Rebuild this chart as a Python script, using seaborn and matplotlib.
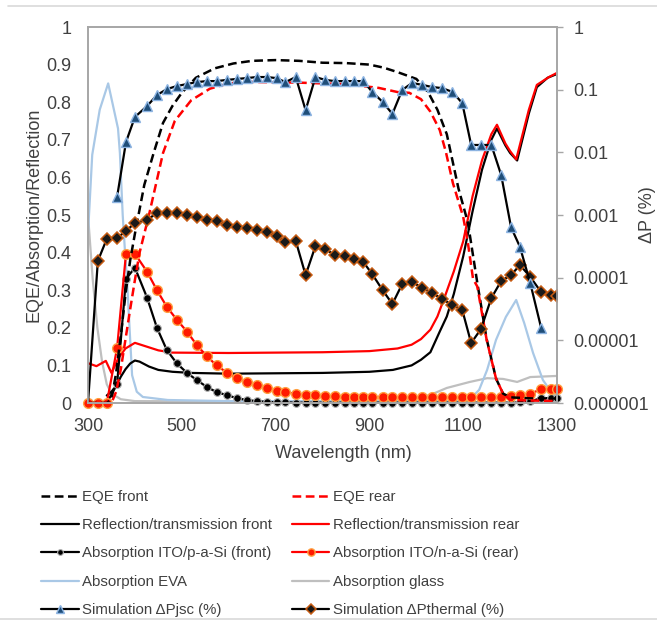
import math
import matplotlib
matplotlib.use("Agg")
import matplotlib.pyplot as plt
from matplotlib.lines import Line2D
from matplotlib.ticker import FixedLocator, FuncFormatter, NullLocator
import seaborn as sns

# ---------------- spectra, left axis (fraction) ----------------
eqe_front_wl = [300, 340, 350, 360, 370, 380, 390, 400, 420, 440, 460, 480, 500, 530, 570, 610,
                650, 700, 750, 800, 850, 900, 930, 960, 1000, 1025, 1045, 1065, 1090, 1110, 1130,
                1150, 1170, 1185, 1200, 1250, 1300]
eqe_front = [0.0, 0.0, 0.01, 0.08, 0.18, 0.29, 0.38, 0.45, 0.58, 0.665, 0.745, 0.79, 0.825, 0.865,
             0.89, 0.903, 0.91, 0.912, 0.91, 0.905, 0.904, 0.9, 0.892, 0.88, 0.862, 0.827, 0.78,
             0.715, 0.57, 0.48, 0.32, 0.17, 0.065, 0.025, 0.015, 0.012, 0.012]

eqe_rear_wl = [300, 350, 360, 370, 380, 390, 400, 410, 430, 460, 485, 520, 560, 600, 640, 750, 850,
               920, 960, 985, 1010, 1030, 1050, 1063, 1078, 1100, 1110, 1121, 1130, 1150, 1170,
               1185, 1200, 1300]
eqe_rear = [0.0, 0.0, 0.03, 0.09, 0.17, 0.25, 0.327, 0.40, 0.50, 0.665, 0.75, 0.805, 0.836, 0.85,
            0.854, 0.852, 0.848, 0.838, 0.827, 0.825, 0.808, 0.775, 0.726, 0.668, 0.585, 0.495,
            0.426, 0.33, 0.31, 0.168, 0.065, 0.025, 0.008, 0.005]

refl_front_wl = [340, 350, 360, 370, 380, 390, 400, 410, 430, 450, 480, 520, 600, 700, 800, 900,
                 950, 990, 1010, 1030, 1050, 1065, 1080, 1100, 1120, 1140, 1160, 1172, 1190, 1200,
                 1215, 1240, 1257, 1280, 1300]
refl_front = [0.02, 0.03, 0.045, 0.07, 0.09, 0.105, 0.113, 0.11, 0.097, 0.088, 0.083, 0.08, 0.078,
              0.079, 0.08, 0.083, 0.088, 0.1, 0.115, 0.135, 0.19, 0.23, 0.29, 0.39, 0.51, 0.62,
              0.70, 0.73, 0.685, 0.665, 0.645, 0.77, 0.84, 0.865, 0.875]

refl_rear_wl = [300, 318, 338, 350, 365, 380, 400, 420, 450, 480, 600, 800, 900, 960, 990, 1010,
                1030, 1045, 1060, 1080, 1100, 1120, 1140, 1160, 1172, 1190, 1200, 1213, 1240, 1257,
                1283, 1300]
refl_rear = [0.106, 0.098, 0.112, 0.08, 0.12, 0.145, 0.16, 0.152, 0.14, 0.134, 0.133, 0.135,
             0.138, 0.145, 0.155, 0.17, 0.195, 0.23, 0.28, 0.35, 0.43, 0.55, 0.645, 0.715, 0.74,
             0.69, 0.67, 0.648, 0.78, 0.846, 0.867, 0.878]

eva_wl = [300, 309, 325, 343, 364, 368, 374, 379, 383, 394, 404, 417, 470, 600, 900, 1080, 1113,
          1134, 1151, 1170, 1191, 1213, 1230, 1249, 1270, 1289, 1300]
eva = [0.45, 0.66, 0.78, 0.85, 0.73, 0.665, 0.5, 0.4, 0.33, 0.074, 0.03, 0.016, 0.008, 0.005,
       0.005, 0.005, 0.008, 0.035, 0.088, 0.168, 0.229, 0.274, 0.213, 0.133, 0.061, 0.027, 0.021]

glass_wl = [300, 310, 320, 330, 340, 350, 370, 400, 600, 900, 980, 1029, 1065, 1114, 1151, 1185,
            1215, 1243, 1300]
glass = [0.5, 0.33, 0.2, 0.11, 0.05, 0.025, 0.01, 0.005, 0.004, 0.005, 0.01, 0.021, 0.04, 0.056,
         0.066, 0.064, 0.056, 0.069, 0.072]

# ---------------- sampled series (shared wavelength grid) ----------------
grid_wl = [300, 321, 340, 362, 381, 400, 426, 447, 468, 489, 511, 532, 553, 574, 596, 617, 638,
           660, 681, 702, 721, 743, 764, 785, 806, 826, 847, 868, 887, 906, 928, 949, 970, 991,
           1013, 1034, 1055, 1077, 1098, 1117, 1138, 1160, 1181, 1202, 1221, 1243, 1266, 1287, 1300]

ito_front = [0.0, 0.0, 0.0, 0.05, 0.33, 0.36, 0.28, 0.2, 0.141, 0.106, 0.08, 0.061, 0.043, 0.029,
             0.021, 0.013, 0.008, 0.005, 0.003, 0.002, 0.002, 0.001, 0.001, 0.001, 0.001, 0.001,
             0.001, 0.001, 0.001, 0.001, 0.001, 0.001, 0.001, 0.001, 0.001, 0.001, 0.001, 0.001,
             0.001, 0.001, 0.001, 0.001, 0.001, 0.001, 0.002, 0.004, 0.013, 0.013, 0.013]

ito_rear = [0.0, 0.0, 0.0, 0.146, 0.397, 0.397, 0.349, 0.30, 0.256, 0.222, 0.19, 0.154, 0.125,
            0.1, 0.081, 0.067, 0.057, 0.047, 0.039, 0.032, 0.028, 0.025, 0.022, 0.02, 0.019, 0.018,
            0.017, 0.017, 0.016, 0.016, 0.016, 0.015, 0.015, 0.015, 0.015, 0.015, 0.015, 0.015,
            0.016, 0.016, 0.016, 0.017, 0.017, 0.018, 0.02, 0.024, 0.037, 0.037, 0.037]

# ---------------- simulations, right axis (%) ----------------
pjsc_wl = grid_wl[3:47]
pjsc = [0.00194, 0.0146, 0.0366, 0.0548, 0.082, 0.102, 0.114, 0.123, 0.132, 0.137, 0.137, 0.143,
        0.148, 0.153, 0.159, 0.159, 0.153, 0.132, 0.159, 0.047, 0.159, 0.143, 0.137, 0.137, 0.137,
        0.137, 0.092, 0.064, 0.041, 0.099, 0.128, 0.119, 0.110, 0.106, 0.092, 0.061, 0.0131,
        0.0131, 0.0131, 0.00434, 0.00064, 0.00031, 0.000082, 0.000016]

pthermal_wl = grid_wl
pthermal = [1.0e-6, 1.85e-4, 4.14e-4, 4.30e-4, 5.56e-4, 7.45e-4, 8.32e-4, 1.08e-3, 1.08e-3,
            1.08e-3, 1.0e-3, 9.29e-4, 8.32e-4, 8.0e-4, 6.92e-4, 6.42e-4, 6.19e-4, 5.75e-4,
            5.35e-4, 4.62e-4, 3.71e-4, 3.85e-4, 1.10e-4, 3.20e-4, 2.86e-4, 2.30e-4, 2.22e-4,
            1.99e-4, 1.78e-4, 1.14e-4, 6.35e-5, 3.80e-5, 7.93e-5, 8.53e-5, 6.84e-5, 5.69e-5,
            4.56e-5, 3.66e-5, 3.05e-5, 9.06e-6, 1.52e-5, 4.73e-5, 8.85e-5, 1.10e-4, 1.59e-4,
            1.03e-4, 5.90e-5, 5.28e-5, 5.09e-5]

x_ticks = [300, 500, 700, 900, 1100, 1300]
left_ticks = [0, 0.1, 0.2, 0.3, 0.4, 0.5, 0.6, 0.7, 0.8, 0.9, 1]
right_ticks = [1e-6, 1e-5, 1e-4, 1e-3, 1e-2, 1e-1, 1]

# ---------------- figure ----------------
sns.set_theme(style="white")
plt.rcParams["font.family"] = ["Liberation Sans", "DejaVu Sans"]

TXT = "#404040"
FRAME = "#A6A6A6"
W, H = 657, 621

fig = plt.figure(figsize=(W / 100, H / 100), dpi=100)
ax = fig.add_axes([88 / W, 1 - 403 / H, 469 / W, 376 / H])
ax2 = ax.twinx()

dash = (0, (3.5, 1.8))
lw = 1.6

sns.lineplot(x=glass_wl, y=glass, ax=ax, color="#BFBFBF", lw=lw, legend=False,
             label="Absorption glass")
sns.lineplot(x=eva_wl, y=eva, ax=ax, color="#A9C8E6", lw=lw, legend=False,
             label="Absorption EVA")
sns.lineplot(x=refl_front_wl, y=refl_front, ax=ax, color="black", lw=lw, legend=False,
             label="Reflection/transmission front")
sns.lineplot(x=refl_rear_wl, y=refl_rear, ax=ax, color="#FF0000", lw=lw, legend=False,
             label="Reflection/transmission rear")
sns.lineplot(x=grid_wl, y=ito_front, ax=ax, color="black", lw=lw, marker="o", markersize=5.5,
             markerfacecolor="black", markeredgecolor="#B0B0B0", markeredgewidth=0.8,
             clip_on=False, legend=False, label="Absorption ITO/p-a-Si (front)")
sns.lineplot(x=grid_wl, y=ito_rear, ax=ax, color="#FF0000", lw=lw, marker="o", markersize=7,
             markerfacecolor="#FF1A00", markeredgecolor="#FFA040", markeredgewidth=1.0,
             clip_on=False, legend=False, label="Absorption ITO/n-a-Si (rear)")
sns.lineplot(x=eqe_front_wl, y=eqe_front, ax=ax, color="black", lw=1.8, linestyle=dash,
             legend=False, label="EQE front")
sns.lineplot(x=eqe_rear_wl, y=eqe_rear, ax=ax, color="#FF0000", lw=1.8, linestyle=dash,
             legend=False, label="EQE rear")

sns.lineplot(x=pthermal_wl, y=pthermal, ax=ax2, color="black", lw=lw, marker="D",
             markersize=6.2, markerfacecolor="#1A1A1A", markeredgecolor="#C55A11",
             markeredgewidth=1.1, markevery=list(range(1, len(pthermal_wl))), legend=False,
             label="Simulation \u0394Pthermal (%)")
sns.lineplot(x=pjsc_wl, y=pjsc, ax=ax2, color="black", lw=lw, marker="^", markersize=7.5,
             markerfacecolor="#1F4E79", markeredgecolor="#8DB4E2", markeredgewidth=1.0,
             legend=False, label="Simulation \u0394Pjsc (%)")

# axes ranges and ticks
ax.set_xlim(300, 1300)
ax.set_ylim(0, 1)
ax.set_xticks(x_ticks)
ax.set_yticks(left_ticks)
ax.yaxis.set_major_formatter(FuncFormatter(lambda v, p: f"{v:g}"))
ax.tick_params(axis="both", length=0, labelsize=13, colors=TXT)
ax.tick_params(axis="x", pad=11)
ax.tick_params(axis="y", pad=12)


def pct_label(v, pos):
    if v >= 1:
        return "1"
    return f"{v:.{int(round(-math.log10(v)))}f}"


ax2.set_yscale("log")
ax2.set_ylim(1e-6, 1)
ax2.yaxis.set_major_locator(FixedLocator(right_ticks))
ax2.yaxis.set_minor_locator(NullLocator())
ax2.yaxis.set_major_formatter(FuncFormatter(pct_label))
ax2.tick_params(axis="y", length=4, width=1, color=FRAME, labelsize=13, labelcolor=TXT, pad=8)

for a in (ax, ax2):
    for s in a.spines.values():
        s.set_color(FRAME)
        s.set_linewidth(1.2)
    a.grid(False)

ax.set_xlabel("Wavelength (nm)", fontsize=13, color=TXT)
ax.xaxis.set_label_coords((343 - 88) / 469, (403 - 445) / 376)
ax.set_ylabel("EQE/Absorption/Reflection", fontsize=13, color=TXT)
ax.yaxis.set_label_coords((43 - 88) / 469, 0.5)
ax2.set_ylabel("")
fig.text(648 / W, 1 - 215 / H, "\u0394P (%)", rotation=90, ha="center", va="center",
         fontsize=13, color=TXT)

# legend: two columns below the plot
h1, l1 = ax.get_legend_handles_labels()
h2, l2 = ax2.get_legend_handles_labels()
lookup = dict(zip(l1 + l2, h1 + h2))
order = ["EQE front", "Reflection/transmission front", "Absorption ITO/p-a-Si (front)",
         "Absorption EVA", "Simulation \u0394Pjsc (%)",
         "EQE rear", "Reflection/transmission rear", "Absorption ITO/n-a-Si (rear)",
         "Absorption glass", "Simulation \u0394Pthermal (%)"]
leg = fig.legend([lookup[k] for k in order], order, ncol=2, loc="upper left",
                 bbox_to_anchor=(41 / W, 1 - 490 / H), frameon=False, fontsize=10.8,
                 handlelength=2.5, handletextpad=0.25, columnspacing=1.3, labelspacing=0.95,
                 borderpad=0, borderaxespad=0, markerscale=0.75)
for t in leg.get_texts():
    t.set_color(TXT)

# thin separator rules above and below
fig.add_artist(Line2D([8 / W, 1], [1 - 6 / H, 1 - 6 / H], color="#D9D9D9", lw=1.2))
fig.add_artist(Line2D([0, 1], [1 - 619 / H, 1 - 619 / H], color="#D9D9D9", lw=1.2))

fig.savefig("out.png", dpi=100, facecolor="white")
